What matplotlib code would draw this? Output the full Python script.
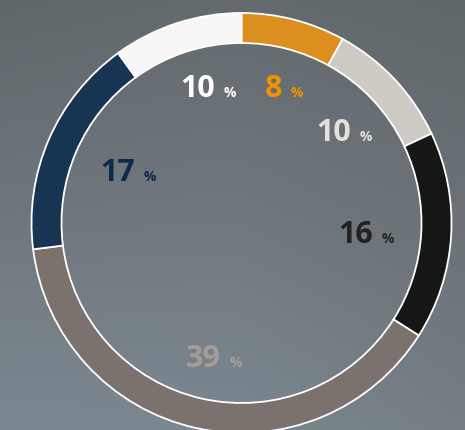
import numpy as np
import matplotlib
matplotlib.use("Agg")
import matplotlib.pyplot as plt
from matplotlib.colors import LinearSegmentedColormap

plt.rcParams['font.family'] = ['Open Sans', 'DejaVu Sans']

# Data (clockwise from 12 o'clock)
values = [8, 10, 16, 39, 17, 10]
seg_colors = ["#dc8e1e", "#cdcbc4", "#151616", "#7b716d", "#173553", "#f7f7f7"]
label_colors = ["#f39200", "#e4e1da", "#222222", "#a89c98", "#0d2a4d", "#ffffff"]
labels = [str(v) for v in values]
# label anchor (right edge of number, baseline) in pixel coords (x, y from top)
label_pos = [(282, 97), (351, 141), (373, 243), (221, 367), (135, 181), (215, 97)]

W, H = 465, 430
fig = plt.figure(figsize=(W / 100, H / 100), dpi=100)
ax = fig.add_axes([0, 0, 1, 1])

cx, cy, R, width = 241.5, H - 223, 210, 30
ax.pie(values, colors=seg_colors, startangle=90, counterclock=False,
       center=(cx, cy), radius=R,
       wedgeprops=dict(width=width, edgecolor="white", linewidth=1.3))

# background gradient
yy, xx = np.mgrid[0:1:200j, 0:1:200j]
grad = 0.55 * yy + 0.25 * (1 - xx) * yy + 0.1 * (1 - np.abs(xx - 0.5) * 2)
cmap = LinearSegmentedColormap.from_list("bg", ["#5f676b", "#6f777c", "#7d8891"])
ax.imshow(grad, cmap=cmap, extent=[0, W, 0, H], origin="upper", aspect="auto",
          interpolation="bicubic", zorder=-10)

for lab, col, (x, y) in zip(labels, label_colors, label_pos):
    ax.text(x, H - y, lab, color=col, fontsize=22, fontweight="bold",
            ha="right", va="baseline")
    ax.text(x + 9, H - y, "%", color=col, fontsize=10, fontweight="bold",
            ha="left", va="baseline")

ax.set_xlim(0, W)
ax.set_ylim(0, H)
ax.set_aspect("auto")
ax.set_axis_off()
fig.canvas.draw()

fig.savefig("out.png", dpi=100)
